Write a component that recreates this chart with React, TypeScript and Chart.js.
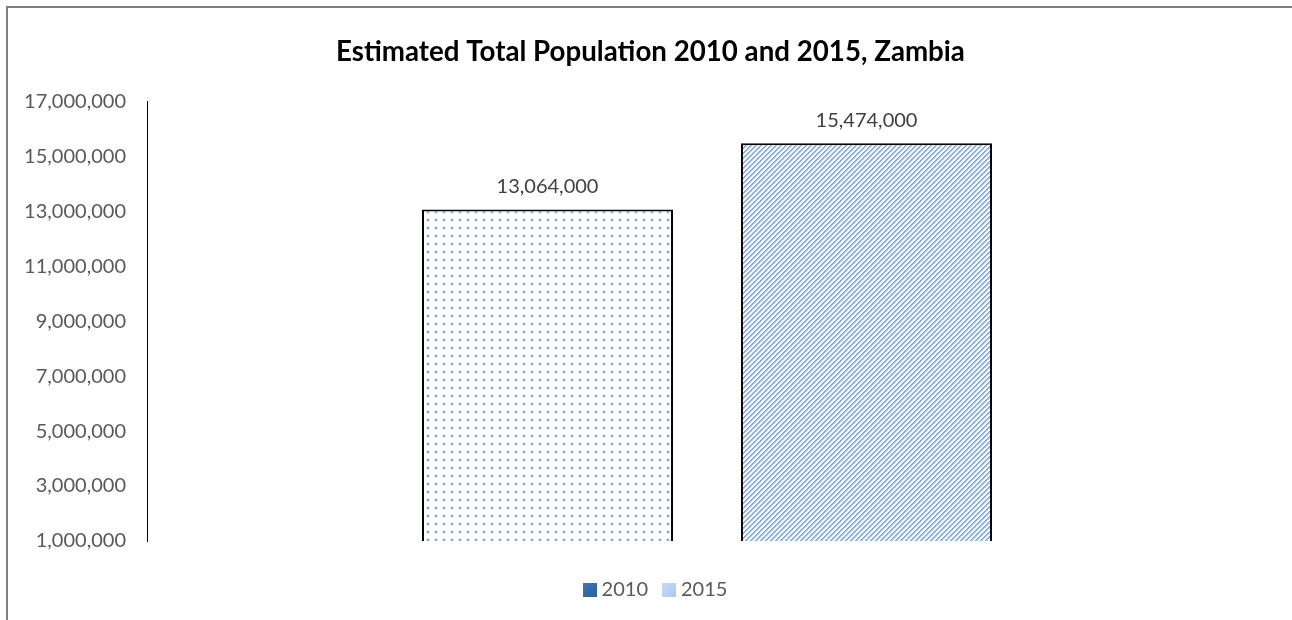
import React, { useEffect, useRef } from "react";
import { Chart, registerables } from "chart.js";

Chart.register(...registerables);

const categories = [""];
const seriesNames = ["2010", "2015"];
const values2010 = [13064000];
const values2015 = [15474000];
const yTickValues = [1000000, 3000000, 5000000, 7000000, 9000000, 11000000, 13000000, 15000000, 17000000];
const legendColors = ["#3b78bd", "#c6dcf6"];
const legendEdgeColors = ["#2d5f98", "#a9c8f0"];
const titleText = "Estimated Total Population 2010 and 2015, Zambia";

const FONT = "Lato, 'Open Sans', sans-serif";

function makeDots(): CanvasPattern | string {
  const c = document.createElement("canvas");
  c.width = 8;
  c.height = 8;
  const g = c.getContext("2d");
  if (!g) return "#ffffff";
  g.fillStyle = "#ffffff";
  g.fillRect(0, 0, 8, 8);
  g.fillStyle = "#8fb4e4";
  g.fillRect(3, 3, 2, 2);
  g.fillStyle = "#5f90d3";
  g.fillRect(3, 3, 1, 1);
  g.fillStyle = "#d4e3f6";
  g.fillRect(2, 3, 1, 2);
  g.fillRect(5, 3, 1, 2);
  g.fillRect(3, 2, 2, 1);
  g.fillRect(3, 5, 2, 1);
  const p = g.createPattern(c, "repeat");
  return p || "#ffffff";
}

function makeStripes(): CanvasPattern | string {
  const n = 5;
  const c = document.createElement("canvas");
  c.width = n;
  c.height = n;
  const g = c.getContext("2d");
  if (!g) return "#9ab8e4";
  for (let x = 0; x < n; x++) {
    for (let y = 0; y < n; y++) {
      const k = (x + y) % n;
      g.fillStyle = k === 0 ? "#76a2db" : k === 1 ? "#9dbde8" : k === 2 ? "#d6e4f6" : "#ffffff";
      g.fillRect(x, y, 1, 1);
    }
  }
  const p = g.createPattern(c, "repeat");
  return p || "#9ab8e4";
}

function makeLegendBox(i: number): HTMLCanvasElement {
  const c = document.createElement("canvas");
  c.width = 14;
  c.height = 14;
  const g = c.getContext("2d");
  if (g) {
    const grad = g.createLinearGradient(0, 0, 14, 14);
    grad.addColorStop(0, legendColors[i]);
    grad.addColorStop(1, legendEdgeColors[i]);
    g.fillStyle = grad;
    g.fillRect(0, 0, 14, 14);
  }
  return c;
}

const dataLabelPlugin = {
  id: "dataLabels",
  afterDatasetsDraw(chart: any) {
    const ctx = chart.ctx;
    ctx.save();
    ctx.font = `20px ${FONT}`;
    ctx.fillStyle = "#404040";
    ctx.textAlign = "center";
    ctx.textBaseline = "middle";
    chart.data.datasets.forEach((ds: any, i: number) => {
      const meta = chart.getDatasetMeta(i);
      meta.data.forEach((el: any, j: number) => {
        const v = ds.data[j] as number;
        ctx.fillText(v.toLocaleString("en-US"), el.x, el.y - 23);
      });
    });
    ctx.restore();
  },
};

// Excel centres its title and legend on the whole chart frame rather than the plot box
const centerShiftPlugin = {
  id: "centerShift",
  afterLayout(chart: any) {
    if (chart.legend) {
      chart.legend.left += 13;
      chart.legend.right += 13;
    }
    if (chart.titleBlock) {
      chart.titleBlock.left += 6;
      chart.titleBlock.right += 6;
    }
  },
};

export default function App() {
  const ref = useRef<HTMLCanvasElement>(null);
  useEffect(() => {
    if (!ref.current) return;
    const boxes = [makeLegendBox(0), makeLegendBox(1)];
    const chart = new Chart(ref.current, {
      type: "bar",
      data: {
        labels: categories,
        datasets: [
          {
            label: seriesNames[0],
            data: values2010,
            backgroundColor: makeDots() as any,
            borderColor: "#000000",
            borderWidth: 2,
            borderSkipped: false,
            categoryPercentage: 0.5696,
            barPercentage: 0.787,
          },
          {
            label: seriesNames[1],
            data: values2015,
            backgroundColor: makeStripes() as any,
            borderColor: "#000000",
            borderWidth: 2,
            borderSkipped: false,
            categoryPercentage: 0.5696,
            barPercentage: 0.787,
          },
        ],
      },
      options: {
        animation: false,
        responsive: false,
        maintainAspectRatio: false,
        layout: { padding: { left: 22, right: 25, top: 0, bottom: 10 } },
        plugins: {
          tooltip: { enabled: false },
          title: {
            display: true,
            text: titleText,
            color: "#000000",
            font: { family: FONT, size: 27.7, weight: "bold" },
            padding: { top: 35, bottom: 33 },
          },
          legend: {
            display: true,
            position: "bottom",
            labels: {
              color: "#595959",
              font: { family: FONT, size: 20 },
              usePointStyle: true,
              pointStyleWidth: 4,
              boxWidth: 14,
              boxHeight: 14,
              padding: 19,
              generateLabels: (ch: any) =>
                ch.data.datasets.map((ds: any, i: number) => ({
                  text: ds.label,
                  fillStyle: legendColors[i],
                  strokeStyle: legendColors[i],
                  pointStyle: boxes[i],
                  lineWidth: 0,
                  hidden: false,
                  datasetIndex: i,
                  fontColor: "#595959",
                })),
            },
          },
        },
        scales: {
          x: {
            display: true,
            offset: true,
            grid: { display: false, drawTicks: false },
            border: { display: false },
            ticks: { display: false },
            afterFit: (scale: any) => {
              scale.height = 20;
            },
          },
          y: {
            min: yTickValues[0],
            max: yTickValues[yTickValues.length - 1],
            afterFit: (scale: any) => {
              scale.width = 125;
            },
            afterBuildTicks: (scale: any) => {
              scale.ticks = yTickValues.map((v) => ({ value: v }));
            },
            grid: { display: false, drawTicks: false },
            border: { display: true, color: "#000000", width: 1 },
            ticks: {
              color: "#595959",
              font: { family: FONT, size: 20 },
              padding: 21,
              callback: (v: any) => Number(v).toLocaleString("en-US"),
            },
          },
        },
      },
      plugins: [dataLabelPlugin, centerShiftPlugin],
    });
    return () => chart.destroy();
  }, []);

  return (
    <div style={{ position: "relative", width: 1292, height: 620, overflow: "hidden", background: "#ffffff" }}>
      <style>{`body{margin:0}`}</style>
      <canvas ref={ref} width={1292} height={620} style={{ position: "absolute", left: 0, top: 0, width: 1292, height: 620 }} />
      <div
        style={{
          position: "absolute",
          left: 6,
          top: 6,
          width: 1500,
          height: 800,
          border: "2px solid #7f7f7f",
          pointerEvents: "none",
        }}
      />
    </div>
  );
}
